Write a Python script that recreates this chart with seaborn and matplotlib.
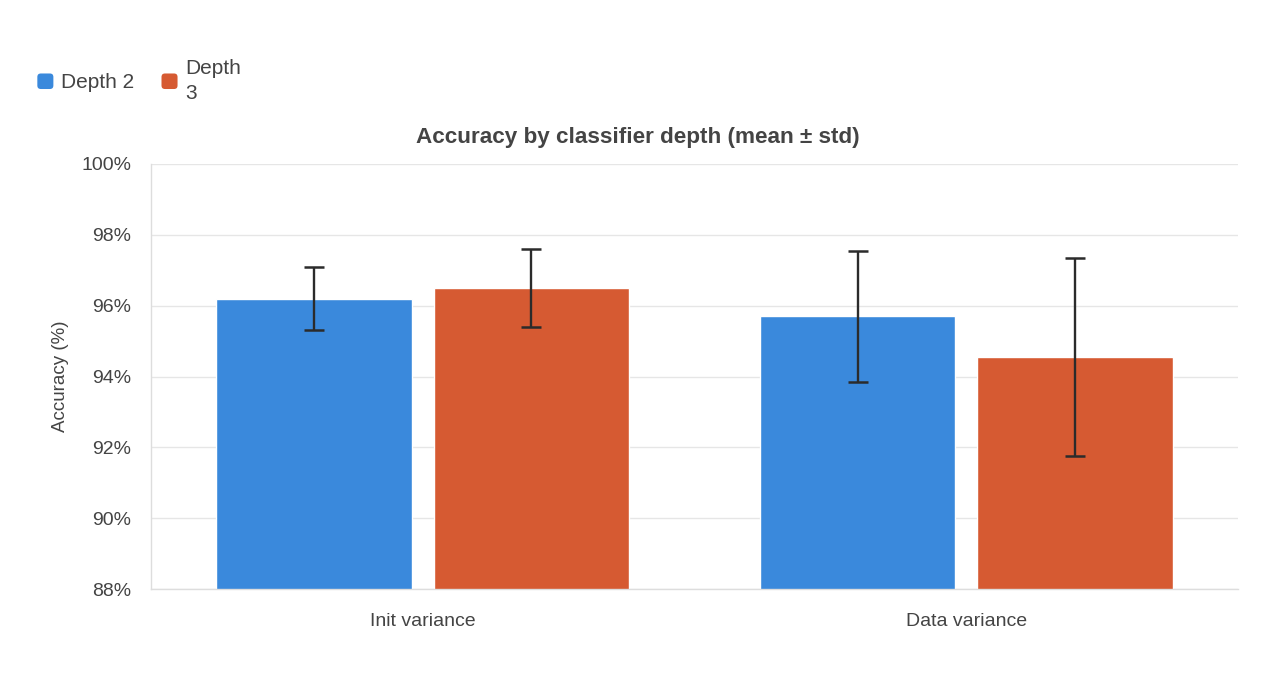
import matplotlib
matplotlib.use("Agg")
import matplotlib.pyplot as plt
import seaborn as sns
import pandas as pd
import numpy as np
from matplotlib.patches import Patch, FancyBboxPatch
from matplotlib.legend_handler import HandlerPatch

categories = ["Init variance", "Data variance"]
series = ["Depth 2", "Depth 3"]
legend_labels = ["Depth 2", "Depth\n3"]
depth2_mean = [96.2, 95.7]
depth2_std = [0.9, 1.85]
depth3_mean = [96.5, 94.55]
depth3_std = [1.1, 2.8]
yticks = [88, 90, 92, 94, 96, 98, 100]
colors = ["#3A89DC", "#D65A32"]

rows = []
for i, c in enumerate(categories):
    rows.append({"cat": c, "series": series[0], "acc": depth2_mean[i], "std": depth2_std[i]})
    rows.append({"cat": c, "series": series[1], "acc": depth3_mean[i], "std": depth3_std[i]})
df = pd.DataFrame(rows)

sns.set_theme(style="white")
plt.rcParams['font.family'] = ['Liberation Sans', 'DejaVu Sans']
text_color = "#444444"

fig = plt.figure(figsize=(12.75, 6.94), dpi=100)
ax = fig.add_axes([151/1275, 1-589/694, (1238-151)/1275, (589-164)/694])

sns.barplot(data=df, x="cat", y="acc", hue="series", order=categories,
            hue_order=series, palette=colors, width=0.8, gap=0.1,
            errorbar=None, ax=ax, legend=False, saturation=1)

# error bars at the bar centres
for k, s in enumerate(series):
    sub = df[df.series == s].set_index("cat").loc[categories]
    bars = ax.containers[k]
    xs = [b.get_x() + b.get_width() / 2 for b in bars]
    ax.errorbar(xs, sub["acc"].values, yerr=sub["std"].values, fmt="none",
                ecolor="#2b2b2b", elinewidth=1.7, capsize=7.2, capthick=1.8, zorder=5)

ax.set_ylim(88, 100)
ax.set_xlim(-0.5, 1.5)
ax.set_yticks(yticks)
ax.set_yticklabels([f"{t}%" for t in yticks])
ax.yaxis.grid(True, color="#e6e6e6", linewidth=1)
ax.set_axisbelow(True)
for side in ["top", "right"]:
    ax.spines[side].set_visible(False)
for side in ["left", "bottom"]:
    ax.spines[side].set_color("#dddddd")
    ax.spines[side].set_linewidth(1)
ax.tick_params(axis="both", length=0, labelsize=14, colors=text_color)
ax.tick_params(axis="y", pad=14)
ax.tick_params(axis="x", pad=17)
ax.set_xlabel("")
ax.set_ylabel("Accuracy (%)", fontsize=13.5, color=text_color, labelpad=9)

fig.text(0.5, 1-137/694, "Accuracy by classifier depth (mean ± std)", ha="center",
         va="center", fontsize=16.2, fontweight="bold", color=text_color)


class RoundHandler(HandlerPatch):
    def create_artists(self, legend, orig_handle, xdescent, ydescent, width,
                       height, fontsize, trans):
        p = FancyBboxPatch((-xdescent, -ydescent), width, height,
                           boxstyle="round,pad=0,rounding_size=2.5",
                           facecolor=orig_handle.get_facecolor(),
                           edgecolor="none", transform=trans)
        return [p]


handles = [Patch(facecolor=colors[0], edgecolor="none"),
           Patch(facecolor=colors[1], edgecolor="none")]
leg = fig.legend(handles, legend_labels, loc="center left",
                 bbox_to_anchor=(29/1275, 1-81/694), ncol=2, frameon=False,
                 fontsize=15, handlelength=0.77, handleheight=0.77, handletextpad=0.38,
                 columnspacing=1.3, labelcolor=text_color, borderaxespad=0,
                 handler_map={Patch: RoundHandler()})
for t in leg.get_texts():
    t.set_linespacing(1.35)

fig.savefig("out.png", dpi=100, facecolor="white")
